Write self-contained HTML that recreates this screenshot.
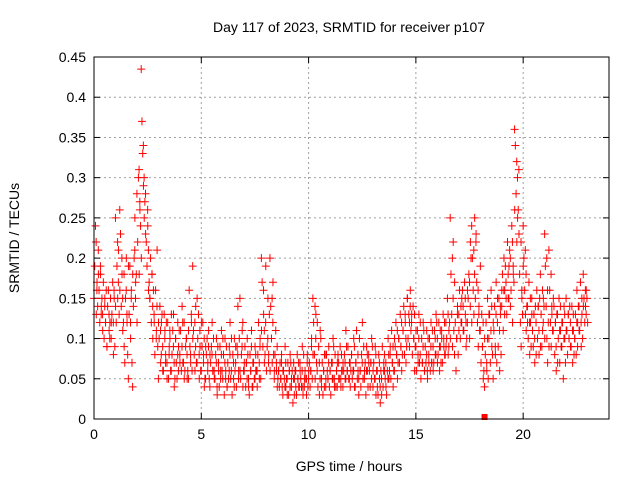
<!DOCTYPE html>
<html><head><meta charset="utf-8"><style>
body{margin:0;background:#fff}
svg{display:block;font-family:"Liberation Sans",sans-serif}
</style></head><body>
<svg id="chart" width="640" height="480">
<text x="349" y="32" text-anchor="middle" font-size="14">Day 117 of 2023, SRMTID for receiver p107</text>
<text x="349" y="471" text-anchor="middle" font-size="14">GPS time / hours</text>
<text transform="translate(19,238) rotate(-90)" text-anchor="middle" font-size="14">SRMTID / TECUs</text>
<g id="grid"></g><g id="ticks"></g><g id="marks"></g>
<rect x="94" y="57" width="515" height="362" fill="none" stroke="#000" stroke-width="1"/>
</svg>
<script>
const xTicks=[0,5,10,15,20];
const yTicks=[0,0.05,0.1,0.15,0.2,0.25,0.3,0.35,0.4,0.45];
const yTickLabels=["0","0.05","0.1","0.15","0.2","0.25","0.3","0.35","0.4","0.45"];
const times=[0,0.2,0.4,0.6,0.8,1,1.2,1.4,1.6,1.8,2,2.2,2.4,2.6,2.8,3,3.2,3.4,3.6,3.8,4,4.2,4.4,4.6,4.8,5,5.2,5.4,5.6,5.8,6,6.2,6.4,6.6,6.8,7,7.2,7.4,7.6,7.8,8,8.2,8.4,8.6,8.8,9,9.2,9.4,9.6,9.8,10,10.2,10.4,10.6,10.8,11,11.2,11.4,11.6,11.8,12,12.2,12.4,12.6,12.8,13,13.2,13.4,13.6,13.8,14,14.2,14.4,14.6,14.8,15,15.2,15.4,15.6,15.8,16,16.2,16.4,16.6,16.8,17,17.2,17.4,17.6,17.8,18,18.2,18.4,18.6,18.8,19,19.2,19.4,19.6,19.8,20,20.2,20.4,20.6,20.8,21,21.2,21.4,21.6,21.8,22,22.2,22.4,22.6,22.8];
const values=[
[.15,.19,.24,.13,.17],[.21,.16,.12,.18,.14],[.13,.17,.10,.15,.12],[.09,.14,.16,.11,.12],[.10,.13,.17,.08,.15],
[.25,.12,.19,.15,.21],[.26,.23,.14,.18,.11],[.18,.07,.15,.20,.12],[.05,.13,.19,.10,.16],[.04,.14,.20,.25,.17],
[.28,.22,.30,.18,.26],[.435,.37,.33,.29,.25],[.28,.22,.19,.24,.16],[.15,.20,.12,.18,.10],[.13,.08,.16,.11,.21],
[.05,.10,.14,.07,.12],[.09,.06,.13,.11,.08],[.07,.12,.05,.09,.10],[.06,.08,.11,.13,.04],[.10,.07,.05,.12,.09],
[.08,.11,.06,.14,.07],[.12,.06,.09,.10,.05],[.05,.16,.09,.07,.12],[.19,.11,.08,.06,.14],[.07,.10,.13,.05,.09],
[.06,.09,.12,.08,.04],[.05,.08,.10,.07,.11],[.04,.07,.09,.12,.06],[.06,.05,.08,.10,.03],[.07,.04,.09,.06,.11],
[.05,.08,.03,.10,.06],[.04,.07,.05,.09,.12],[.06,.03,.08,.05,.10],[.07,.04,.09,.14,.06],[.15,.05,.08,.11,.04],
[.06,.09,.04,.07,.10],[.05,.03,.08,.06,.11],[.04,.07,.05,.09,.06],[.06,.08,.12,.05,.10],[.20,.17,.09,.13,.07],
[.12,.06,.09,.15,.08],[.20,.14,.10,.07,.17],[.05,.08,.11,.06,.04],[.06,.04,.07,.05,.08],[.03,.06,.05,.09,.04],
[.05,.07,.03,.06,.08],[.04,.06,.02,.07,.05],[.06,.03,.08,.05,.04],[.07,.05,.04,.09,.03],[.04,.06,.05,.03,.08],
[.05,.07,.04,.06,.10],[.15,.12,.08,.05,.13],[.06,.04,.09,.03,.11],[.05,.07,.03,.06,.08],[.04,.08,.06,.05,.09],
[.06,.03,.07,.05,.10],[.05,.08,.04,.06,.07],[.07,.05,.09,.04,.06],[.04,.06,.08,.05,.11],[.06,.09,.05,.07,.04],
[.08,.05,.06,.10,.04],[.07,.11,.05,.06,.03],[.06,.04,.08,.12,.05],[.05,.07,.03,.09,.06],[.08,.06,.04,.07,.10],
[.04,.07,.05,.09,.03],[.06,.03,.08,.05,.02],[.05,.09,.04,.07,.06],[.07,.03,.06,.10,.05],[.08,.05,.11,.07,.04],
[.06,.09,.12,.08,.05],[.10,.07,.13,.09,.06],[.11,.14,.08,.12,.07],[.15,.10,.13,.09,.16],[.12,.08,.14,.10,.06],
[.09,.06,.11,.07,.13],[.08,.05,.10,.07,.12],[.06,.09,.07,.11,.05],[.08,.10,.06,.12,.07],[.09,.07,.11,.08,.13],
[.10,.08,.12,.06,.09],[.11,.07,.13,.09,.08],[.12,.10,.15,.08,.11],[.25,.18,.13,.09,.22],[.08,.12,.06,.10,.14],
[.13,.16,.10,.12,.15],[.14,.11,.17,.13,.09],[.12,.15,.18,.10,.22],[.24,.20,.16,.13,.25],[.22,.17,.12,.09,.14],
[.11,.07,.13,.09,.05],[.04,.08,.12,.06,.15],[.10,.13,.07,.16,.09],[.05,.11,.14,.08,.17],[.12,.09,.15,.06,.13],
[.14,.18,.11,.20,.16],[.17,.13,.22,.15,.19],[.20,.16,.24,.12,.18],[.36,.34,.28,.22,.25],[.31,.18,.12,.09,.15],
[.24,.20,.16,.13,.11],[.14,.10,.17,.08,.12],[.15,.11,.09,.13,.07],[.12,.16,.10,.14,.08],[.18,.13,.09,.11,.15],
[.23,.19,.14,.10,.07],[.21,.16,.12,.09,.13],[.11,.14,.08,.12,.06],[.13,.10,.15,.07,.11],[.09,.12,.05,.14,.10],
[.15,.11,.08,.13,.10],[.12,.09,.14,.07,.11],[.10,.13,.08,.16,.12],[.14,.11,.17,.09,.13],[.18,.15,.12,.14,.16]];
const values2=[
[.22,.16,.14,.18],[.19,.13,.15,.11],[.14,.12,.16,.09],[.13,.10,.15,.12],[.12,.16,.09,.14],
[.22,.17,.13,.16],[.20,.15,.12,.09],[.16,.13,.08,.19],[.12,.15,.07,.18],[.21,.15,.18,.12],
[.31,.27,.24,.20],[.34,.30,.27,.23],[.26,.21,.17,.15],[.18,.14,.16,.12],[.10,.14,.09,.12],
[.11,.08,.13,.06],[.10,.07,.12,.05],[.08,.11,.06,.13],[.09,.07,.05,.10],[.08,.06,.11,.07],
[.09,.12,.07,.05],[.10,.08,.06,.11],[.08,.13,.06,.10],[.12,.09,.07,.15],[.08,.11,.06,.12],
[.07,.10,.05,.09],[.06,.09,.05,.08],[.08,.06,.10,.05],[.07,.04,.09,.06],[.05,.08,.06,.10],
[.07,.05,.09,.04],[.06,.08,.05,.10],[.07,.04,.06,.09],[.08,.05,.10,.06],[.09,.12,.06,.07],
[.07,.05,.08,.04],[.06,.09,.04,.07],[.05,.08,.06,.04],[.07,.09,.05,.11],[.16,.11,.08,.19],
[.10,.07,.13,.06],[.15,.12,.08,.06],[.07,.09,.05,.06],[.05,.07,.04,.06],[.04,.07,.05,.03],
[.06,.04,.07,.05],[.05,.03,.06,.04],[.05,.07,.04,.06],[.06,.04,.08,.05],[.05,.07,.04,.06],
[.06,.09,.05,.08],[.14,.10,.07,.12],[.07,.05,.10,.04],[.06,.04,.08,.05],[.05,.07,.04,.06],
[.07,.05,.09,.04],[.06,.04,.08,.05],[.05,.08,.06,.07],[.07,.05,.09,.06],[.05,.07,.06,.08],
[.06,.09,.04,.07],[.08,.05,.10,.06],[.07,.05,.09,.06],[.06,.08,.04,.07],[.07,.05,.09,.06],
[.05,.08,.06,.04],[.07,.04,.06,.03],[.06,.08,.05,.04],[.05,.08,.06,.09],[.07,.09,.06,.10],
[.08,.11,.07,.10],[.09,.12,.08,.11],[.13,.10,.09,.15],[.12,.14,.11,.13],[.10,.13,.09,.11],
[.08,.10,.07,.12],[.07,.09,.11,.06],[.08,.06,.10,.07],[.09,.07,.11,.06],[.10,.08,.12,.07],
[.09,.11,.07,.10],[.10,.12,.08,.09],[.13,.09,.12,.10],[.20,.15,.11,.17],[.10,.13,.08,.11],
[.14,.12,.16,.11],[.15,.12,.10,.16],[.17,.14,.20,.12],[.21,.18,.15,.23],[.16,.13,.11,.19],
[.09,.12,.06,.10],[.07,.10,.05,.13],[.11,.14,.08,.12],[.09,.13,.07,.15],[.11,.14,.08,.16],
[.16,.13,.19,.15],[.18,.15,.21,.14],[.22,.19,.17,.26],[.32,.30,.26,.23],[.22,.16,.13,.19],
[.21,.18,.14,.12],[.12,.15,.09,.13],[.13,.10,.14,.08],[.14,.11,.15,.09],[.16,.12,.14,.10],
[.20,.16,.12,.09],[.18,.14,.11,.15],[.12,.09,.13,.07],[.11,.14,.09,.12],[.10,.13,.07,.11],
[.13,.10,.14,.09],[.11,.13,.08,.10],[.12,.09,.14,.11],[.12,.15,.10,.14],[.16,.13,.15,.12]];
const zeroTimes=[18.2];
const NS="http://www.w3.org/2000/svg";
const L=94,R=609,T=57,B=419;
const xs=h=>L+(h/24)*(R-L);
const ys=v=>B-(v/0.45)*(B-T);
function mk(tag,attrs,parent){const e=document.createElementNS(NS,tag);for(const k in attrs)e.setAttribute(k,attrs[k]);parent.appendChild(e);return e;}
const grid=document.getElementById('grid'),ticks=document.getElementById('ticks'),marks=document.getElementById('marks');
xTicks.forEach(t=>{const x=xs(t);
 if(t>0){const g=mk('line',{x1:x,x2:x,y1:T,y2:B,stroke:'#a0a0a0','stroke-dasharray':'2,3'},grid);
 
 }
 mk('line',{x1:x,x2:x,y1:B,y2:B-6,stroke:'#000'},ticks);mk('line',{x1:x,x2:x,y1:T,y2:T+6,stroke:'#000'},ticks);
 const tx=mk('text',{x:x,y:B+20,'text-anchor':'middle','font-size':14},ticks);tx.textContent=t;
 
 });
yTicks.forEach((t,i)=>{const y=ys(t);
 if(i>0&&i<yTicks.length-1){const g=mk('line',{x1:L,x2:R,y1:y,y2:y,stroke:'#a0a0a0','stroke-dasharray':'2,3'},grid);
 
 }
 mk('line',{x1:L,x2:L+6,y1:y,y2:y,stroke:'#000'},ticks);mk('line',{x1:R,x2:R-6,y1:y,y2:y,stroke:'#000'},ticks);
 const tx=mk('text',{x:L-8,y:y+5,'text-anchor':'end','font-size':14},ticks);tx.textContent=yTickLabels[i];
 
 });
function drawSet(vals,shift){
 times.forEach((t,i)=>{vals[i].forEach((v,j)=>{
  const x=xs(t+shift+j*0.035),y=ys(v);
  const p=mk('path',{d:`M${x-4},${y}h8M${x},${y-4}v8`,stroke:'#ff0000','stroke-width':1,fill:'none'},marks);
  
  });});
}
drawSet(values,0);
drawSet(values2,0.1);
zeroTimes.forEach(t=>{const r=mk('rect',{x:xs(t)-3,y:B-5,width:6,height:6,fill:'#ff0000'},marks);
 
 });
</script>
</body></html>
